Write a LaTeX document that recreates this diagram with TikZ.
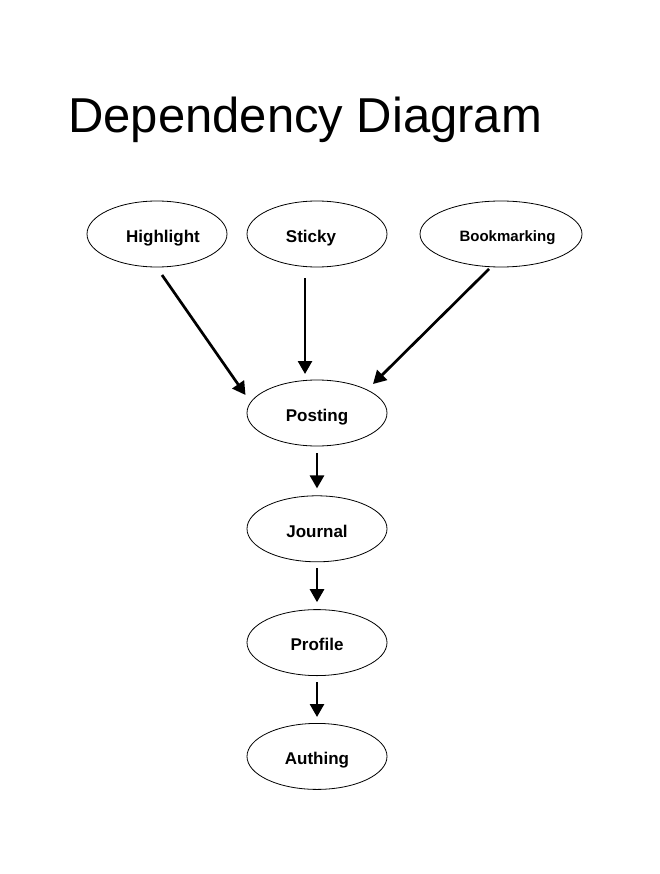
\documentclass[tikz,border=0pt]{standalone}
\usepackage{fontspec}
\setmainfont{Liberation Sans}
\usetikzlibrary{shapes.geometric, arrows.meta, positioning}
\tikzset{
    % Base Node Style
    depNode/.style={
        ellipse,
        draw=black,
        line width=0.8pt,
        inner sep=0pt,
        minimum width=140pt,
        minimum height=66pt,
        text height=16.4pt,
        text depth=0pt,
        font=\fontsize{17}{20}\selectfont\bfseries
    },
    wideNode/.style={depNode, minimum width=162pt, text height=14.8pt, font=\fontsize{15}{18}\selectfont\bfseries},
    % Arrow & Title Styles
    arrow/.style={-{Triangle[length=13pt, width=14pt]}, line width=2.7pt, draw=black},
    titleText/.style={font=\fontsize{49}{59}\selectfont, anchor=base west, inner sep=0pt}
}

\begin{document}
\begin{tikzpicture}[x=1pt, y=-1pt]
    \useasboundingbox (0,0) rectangle (660,874);

    % --- Title ---
    \node (title) [titleText] at (68,133) {Dependency Diagram};

    % --- TOP ROW (Features) ---
    \node (highlight) [depNode] at (157,234) {\hspace*{12pt}Highlight};
    \node (sticky) [depNode] at (317,234) {Sticky\hspace*{12pt}};
    \node (bookmarking) [wideNode] at (501,234) {\hspace*{13pt}Bookmarking};

    % --- CENTER COLUMN (Core Chain) ---
    \node (posting) [depNode] at (317,413) {Posting};
    \node (journal) [depNode, below=49pt of posting] {Journal};
    \node (profile) [depNode, below=47pt of journal] {Profile};
    \node (authing) [depNode, below=47pt of profile] {Authing};

    % --- Arrows (Into Posting) ---
    \draw [arrow] ([shift={(5,41)}]highlight.center) -- ([shift={(-71.5,-18)}]posting.center);
    \draw [arrow] ([shift={(-12,44)}]sticky.center) -- ([shift={(-12,-39)}]posting.center);
    \draw [arrow] ([shift={(-12,35)}]bookmarking.center) -- ([shift={(56,-29)}]posting.center);

    % --- Arrows (Down the Chain) ---
    \draw [arrow, shorten <=7pt, shorten >=7pt] (posting) -- (journal);
    \draw [arrow, shorten <=6pt, shorten >=7pt] (journal) -- (profile);
    \draw [arrow, shorten <=6pt, shorten >=6pt] (profile) -- (authing);

\end{tikzpicture}
\end{document}
